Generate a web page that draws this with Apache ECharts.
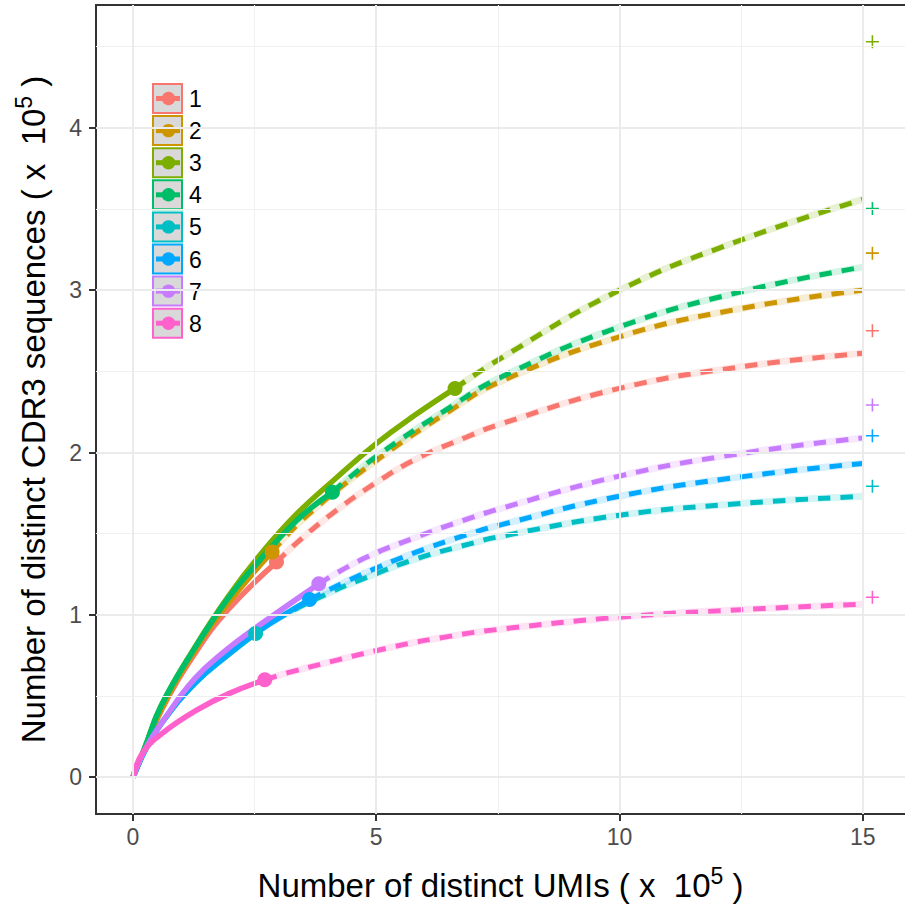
<!DOCTYPE html>
<html>
<head>
<meta charset="utf-8">
<script src="https://cdn.jsdelivr.net/npm/echarts@6/dist/echarts.min.js"></script>
<style>
  html, body { margin: 0; padding: 0; background: #ffffff; }
  #chart { width: 905px; height: 908px; }
</style>
</head>
<body>
<div id="chart"></div>
<script>
// Sample groups and their colours
const groups = ['1', '2', '3', '4', '5', '6', '7', '8'];
const colors = ['#F8766D', '#CD9600', '#7CAE00', '#00BE67', '#00BFC4', '#00A9FF', '#C77CFF', '#FF61CC'];

// Observed (interpolated) rarefaction curves: [UMIs x1e5, CDR3 x1e5]
const observed1 = [[0, 0], [0.24, 0.17], [0.58, 0.41], [1.27, 0.76], [1.95, 1.03], [2.95, 1.325]];
const observed2 = [[0, 0], [0.24, 0.17], [0.58, 0.42], [1.27, 0.78], [1.95, 1.07], [2.86, 1.388]];
const observed3 = [[0, 0], [0.24, 0.18], [0.58, 0.44], [1.27, 0.80], [1.95, 1.11], [2.67, 1.39], [3.36, 1.62], [4.09, 1.82], [5, 2.055], [5.82, 2.235], [6.62, 2.395]];
const observed4 = [[0, 0], [0.24, 0.18], [0.58, 0.44], [1.27, 0.795], [1.95, 1.10], [2.5, 1.30], [3.36, 1.58], [4.10, 1.756]];
const observed5 = [[0, 0], [0.24, 0.16], [0.58, 0.33], [1.27, 0.577], [1.95, 0.752], [2.52, 0.885]];
const observed6 = [[0, 0], [0.24, 0.16], [0.58, 0.33], [1.27, 0.58], [1.95, 0.755], [2.52, 0.888], [3.63, 1.094]];
const observed7 = [[0, 0], [0.24, 0.166], [0.58, 0.33], [1.27, 0.607], [1.95, 0.792], [2.45, 0.905], [3.82, 1.191]];
const observed8 = [[0, 0], [0.2, 0.15], [0.6, 0.27], [1.29, 0.41], [1.97, 0.515], [2.71, 0.60]];

// Extrapolated curves, starting at the observed sample size
const extrap1 = [[2.95, 1.325], [3.42, 1.458], [4.18, 1.643], [5, 1.815], [5.82, 1.96], [6.85, 2.094], [7.5, 2.17], [10, 2.395], [12.5, 2.528], [15, 2.611]];
const extrap2 = [[2.86, 1.388], [3.59, 1.614], [5, 1.95], [6.53, 2.26], [7.5, 2.43], [10, 2.713], [12.5, 2.887], [15, 3.0]];
const extrap3 = [[6.62, 2.395], [7.5, 2.569], [10, 3.0], [12.5, 3.309], [15, 3.559]];
const extrap4 = [[4.10, 1.756], [5, 1.975], [6.5, 2.275], [7.5, 2.455], [10, 2.774], [12.5, 2.99], [15, 3.142]];
const extrap5 = [[2.52, 0.885], [3.04, 0.987], [4.07, 1.14], [4.73, 1.222], [5.82, 1.345], [6.92, 1.437], [7.5, 1.48], [10, 1.614], [12.5, 1.686], [15, 1.73]];
const extrap6 = [[3.63, 1.094], [4.73, 1.253], [5.82, 1.386], [6.92, 1.499], [7.5, 1.55], [10, 1.731], [12.5, 1.85], [15, 1.933]];
const extrap7 = [[3.82, 1.191], [4.73, 1.345], [5.82, 1.478], [6.78, 1.581], [7.5, 1.65], [10, 1.855], [12.5, 1.994], [15, 2.09]];
const extrap8 = [[2.71, 0.60], [3.25, 0.649], [5.3, 0.80], [6.53, 0.869], [7.5, 0.91], [10, 0.986], [12.5, 1.032], [15, 1.066]];

// Estimated asymptotic diversity, drawn as "+" to the right of the curves
const asymptoteX = 15.2;
const asymptotes = [2.75, 3.228, 4.53, 3.503, 1.792, 2.103, 2.293, 1.109];

// Axis ticks and gridlines
const xTicks = [0, 5, 10, 15];
const xMinor = [2.5, 7.5, 12.5];
const yTicks = [0, 1, 2, 3, 4];
const yMinor = [0.5, 1.5, 2.5, 3.5, 4.5];

const observed = [observed1, observed2, observed3, observed4, observed5, observed6, observed7, observed8];
const extrap = [extrap1, extrap2, extrap3, extrap4, extrap5, extrap6, extrap7, extrap8];

const FONT = '"Liberation Sans", Arial, Helvetica, sans-serif';
const chart = echarts.init(document.getElementById('chart'), null, { renderer: 'svg', width: 905, height: 908 });

const majorGrid = { color: '#EBEBEB', width: 2, type: 'solid' };
const minorGrid = { color: '#F0F0F0', width: 1.1, type: 'solid' };
const SMOOTH = 0.45;

const series = [];

// Panel gridlines
series.push({
  type: 'line', data: [], z: 0, silent: true, animation: false,
  markLine: {
    silent: true, animation: false, symbol: ['none', 'none'],
    label: { show: false }, emphasis: { disabled: true },
    data: [
      ...xMinor.map(v => ({ xAxis: v, lineStyle: minorGrid })),
      ...yMinor.map(v => ({ yAxis: v, lineStyle: minorGrid })),
      ...xTicks.map(v => ({ xAxis: v, lineStyle: majorGrid })),
      ...yTicks.map(v => ({ yAxis: v, lineStyle: majorGrid }))
    ]
  }
});

// Light confidence band under each extrapolated curve
groups.forEach((g, i) => {
  series.push({
    type: 'line', data: extrap[i], z: 1, silent: true,
    smooth: SMOOTH, symbol: 'none',
    lineStyle: { color: colors[i], width: 7, opacity: 0.17 }
  });
});

// Observed (solid) and extrapolated (dashed) curves
groups.forEach((g, i) => {
  series.push({
    name: g, type: 'line', data: observed[i], z: 2,
    smooth: SMOOTH, symbol: 'none',
    lineStyle: { color: colors[i], width: 5.5, cap: 'butt' }
  });
  series.push({
    type: 'line', data: extrap[i], z: 2,
    smooth: SMOOTH, symbol: 'none',
    lineStyle: { color: colors[i], width: 5, type: [12.5, 10], cap: 'butt' }
  });
});

// Observed sample size points
groups.forEach((g, i) => {
  series.push({
    type: 'scatter', z: 3, symbol: 'circle', symbolSize: 15,
    data: [observed[i][observed[i].length - 1]],
    itemStyle: { color: colors[i], opacity: 1 }
  });
});

// Asymptote markers
groups.forEach((g, i) => {
  series.push({
    type: 'scatter', z: 3, symbol: 'path://M0,5L10,5M5,0L5,10', symbolSize: 13,
    data: [[asymptoteX, asymptotes[i]]],
    itemStyle: { color: 'none', borderColor: colors[i], borderWidth: 1.6, opacity: 1 }
  });
});

// Legend keys: grey box with coloured outline, line and point
const legendItems = [];
groups.forEach((g, i) => {
  const top = 83 + i * 32.1;
  legendItems.push(
    { type: 'rect', shape: { x: 153, y: top + 1, width: 29, height: 29 },
      style: { fill: '#D9D9D9', stroke: colors[i], lineWidth: 2, opacity: 1 } },
    { type: 'line', shape: { x1: 156, y1: top + 15.5, x2: 180, y2: top + 15.5 },
      style: { stroke: colors[i], lineWidth: 5 } },
    { type: 'circle', shape: { cx: 168.5, cy: top + 15.5, r: 6.7 },
      style: { fill: colors[i] } },
    { type: 'text', x: 189, y: top + 16,
      style: { text: g, fill: '#000', font: '23px ' + FONT, textVerticalAlign: 'middle' } }
  );
});

const titleRich = {
  t: { fontSize: 33, color: '#000', fontFamily: FONT, lineHeight: 42, verticalAlign: 'middle' },
  s: { fontSize: 23, color: '#000', fontFamily: FONT, lineHeight: 23, verticalAlign: 'top' }
};

chart.setOption({
  animation: false,
  backgroundColor: '#ffffff',
  grid: { left: 96, top: 5, right: 0, bottom: 94 },
  xAxis: [{
    type: 'value', min: -0.76, max: 15.87,
    axisLine: { show: true, onZero: false, lineStyle: { color: '#333333', width: 2 } },
    splitLine: { show: false },
    axisTick: { show: true, customValues: xTicks, length: 7, lineStyle: { color: '#333333', width: 2 } },
    axisLabel: { customValues: xTicks, color: '#4D4D4D', fontSize: 23, fontFamily: FONT, margin: 11 },
    name: '{t|Number of distinct UMIs ( x  10}{s|5}{t| )}',
    nameLocation: 'middle', nameGap: 50,
    nameTextStyle: { rich: titleRich }
  }, {
    // top edge of the panel
    type: 'value', position: 'top', min: -0.76, max: 15.87,
    axisLine: { show: true, onZero: false, lineStyle: { color: '#333333', width: 2 } },
    axisTick: { show: false }, axisLabel: { show: false }, splitLine: { show: false }
  }],
  yAxis: {
    type: 'value', min: -0.2265, max: 4.7565,
    axisLine: { show: true, onZero: false, lineStyle: { color: '#333333', width: 2 } },
    splitLine: { show: false },
    axisTick: { show: true, customValues: yTicks, length: 7, lineStyle: { color: '#333333', width: 2 } },
    axisLabel: { customValues: yTicks, color: '#4D4D4D', fontSize: 23, fontFamily: FONT, margin: 14 },
    name: '{t|Number of distinct CDR3 sequences ( x  10}{s|5}{t| )}',
    nameLocation: 'middle', nameGap: 42, nameRotate: 90,
    nameTextStyle: { rich: titleRich }
  },
  graphic: { elements: legendItems },
  series: series
});
</script>
</body>
</html>
